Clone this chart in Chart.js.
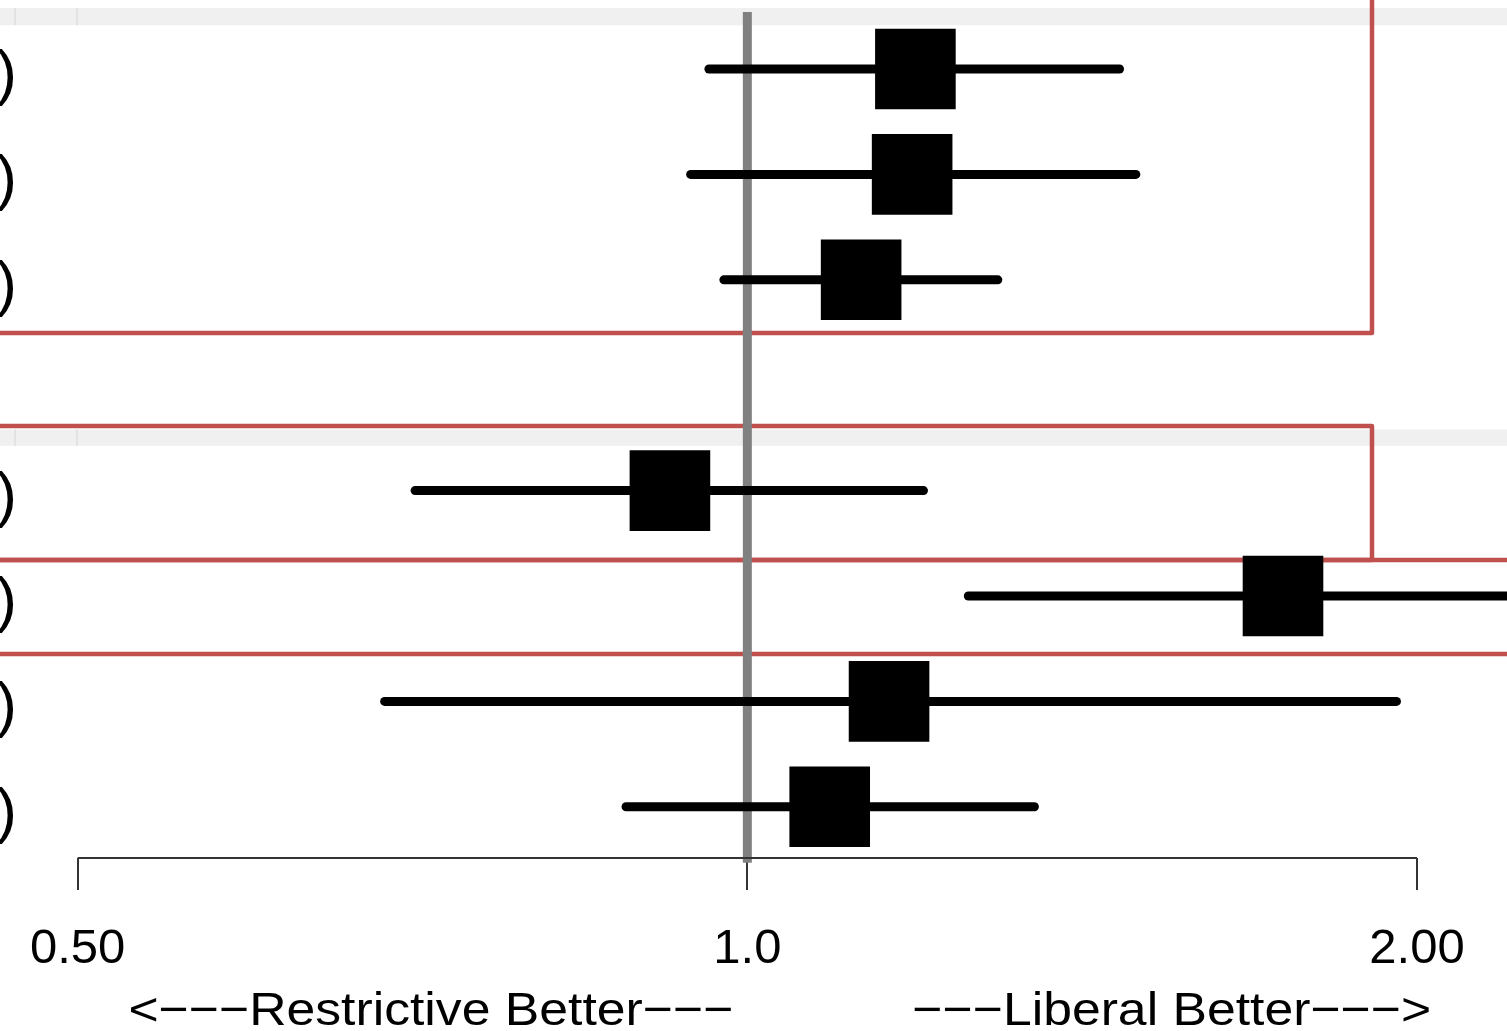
<!DOCTYPE html>
<html>
<head>
<meta charset="utf-8">
<script src="https://cdn.jsdelivr.net/npm/chart.js@4.4.1/dist/chart.umd.min.js"></script>
<style>
  html, body { margin: 0; padding: 0; background: #fff; }
  #wrap { width: 1507px; height: 1031px; position: relative; }
</style>
</head>
<body>
<div id="wrap"><canvas id="forest"></canvas></div>
<script>
// Rows of the forest plot (y position in row units, header rows are skipped)
const rowPos = [0, 1, 2, 4, 5, 6, 7];
const rowText = ['1.19 (0.96, 1.47)', '1.19 (0.94, 1.50)', '1.13 (0.97, 1.30)',
                 '0.92 (0.71, 1.20)', '1.74 (1.26, 2.30)', '1.16 (0.69, 1.96)', '1.09 (0.88, 1.35)'];
const estimate = [1.19, 1.186, 1.125, 0.923, 1.741, 1.158, 1.089];
const lower = [0.961, 0.943, 0.976, 0.709, 1.257, 0.687, 0.882];
const upper = [1.470, 1.495, 1.296, 1.200, 2.30, 1.958, 1.346];

// Axis
const tickValues = [0.5, 1, 2];
const tickLabels = ['0.50', '1.0', '2.00'];
const xMin = 0.4622;
const xMax = 2.1953;
const yMin = -0.655;
const yMax = 7.486;

// Header shading stripes and highlight boxes, in row / data units
const headerStripes = [[-0.58, -0.415], [3.42, 3.575]];
const highlightBoxes = [
    { x0: 0.3, x1: 1.909, y0: -1.2, y1: 2.505 },
    { x0: 0.3, x1: 1.909, y0: 3.387, y1: 4.658 },
    { x0: 0.3, x1: 2.6, y0: 4.658, y1: 5.55 }
];

const FONT = '"Liberation Sans", Arial, sans-serif';

// stretched text helper (the original glyphs are a bit wider than Liberation Sans)
function wideText(ctx, text, x, y, align, stretch) {
    ctx.save();
    ctx.translate(x, y);
    ctx.scale(stretch, 1);
    ctx.textAlign = align;
    ctx.fillText(text, 0, 0);
    ctx.restore();
}

// Background decorations: gray stripes + red boxes (drawn before the data)
const backdropPlugin = {
    id: 'backdrop',
    beforeDatasetsDraw(chart) {
        const { ctx, scales: { x, y }, width } = chart;
        ctx.save();
        headerStripes.forEach(([a, b]) => {
            const top = y.getPixelForValue(a);
            const bot = y.getPixelForValue(b);
            ctx.fillStyle = '#f0f0f0';
            ctx.fillRect(0, top, width, bot - top);
            ctx.fillStyle = '#e2e2e2';
            ctx.fillRect(14, top, 2, bot - top);
            ctx.fillRect(76, top, 2, bot - top);
        });
        ctx.strokeStyle = '#c0504d';
        ctx.lineWidth = 4.5;
        ctx.lineJoin = 'round';
        highlightBoxes.forEach(b => {
            const l = x.getPixelForValue(b.x0);
            const r = x.getPixelForValue(b.x1);
            const t = y.getPixelForValue(b.y0);
            const btm = y.getPixelForValue(b.y1);
            ctx.strokeRect(l, t, r - l, btm - t);
        });
        ctx.restore();
    },
    afterDraw(chart) {
        const { ctx, scales: { x, y }, chartArea } = chart;
        ctx.save();
        // axis line between first and last tick
        ctx.strokeStyle = '#333';
        ctx.lineWidth = 2;
        ctx.beginPath();
        ctx.moveTo(x.getPixelForValue(tickValues[0]), chartArea.bottom);
        ctx.lineTo(x.getPixelForValue(tickValues[tickValues.length - 1]), chartArea.bottom);
        ctx.stroke();

        // row labels (mostly cut off at the left edge)
        ctx.fillStyle = '#000';
        ctx.font = '62px ' + FONT;
        ctx.textAlign = 'right';
        ctx.textBaseline = 'alphabetic';
        rowPos.forEach((p, i) => {
            ctx.fillText(rowText[i], 17, y.getPixelForValue(p) + 24);
        });

        // direction labels under the axis
        ctx.font = '47px ' + FONT;
        const one = x.getPixelForValue(1);
        wideText(ctx, '<\u2212\u2212\u2212Restrictive Better\u2212\u2212\u2212', one - 14, 1025, 'right', 1.1);
        wideText(ctx, '\u2212\u2212\u2212Liberal Better\u2212\u2212\u2212>', one + 165, 1025, 'left', 1.1);
        ctx.restore();
    }
};

const boxData = rowPos.map((p, i) => ({ x: estimate[i], y: p }));

const ciSets = rowPos.map((p, i) => ({
    type: 'line',
    data: [{ x: lower[i], y: p }, { x: upper[i], y: p }],
    borderColor: '#000',
    borderWidth: 9,
    borderCapStyle: 'round',
    pointRadius: 0,
    clip: false
}));

const datasets = [
    {
        type: 'scatter',
        label: 'Estimate',
        data: boxData,
        pointStyle: 'rect',
        pointRadius: 57,
        pointHoverRadius: 57,
        backgroundColor: '#000',
        borderColor: '#000',
        borderWidth: 0,
        clip: false
    },
    ...ciSets,
    {
        type: 'line',
        label: 'No effect',
        data: [{ x: 1, y: -0.54 }, { x: 1, y: 7.53 }],
        borderColor: '#808080',
        borderWidth: 9,
        pointRadius: 0,
        clip: false
    }
];

new Chart(document.getElementById('forest'), {
    type: 'scatter',
    data: { datasets },
    plugins: [backdropPlugin],
    options: {
        responsive: true,
        maintainAspectRatio: false,
        animation: false,
        layout: { padding: 0, autoPadding: false },
        plugins: {
            legend: { display: false },
            tooltip: { enabled: false }
        },
        scales: {
            x: {
                type: 'logarithmic',
                position: 'bottom',
                min: xMin,
                max: xMax,
                afterBuildTicks: scale => {
                    scale.ticks = tickValues.map(v => ({ value: v }));
                },
                afterFit: scale => { scale.height = 173; },
                border: { display: false },
                grid: {
                    drawOnChartArea: false,
                    drawTicks: true,
                    tickLength: 32,
                    color: '#333',
                    lineWidth: 2
                },
                ticks: {
                    autoSkip: false,
                    maxRotation: 0,
                    padding: 30,
                    color: '#000',
                    font: { family: FONT, size: 49 },
                    callback: (v, i) => tickLabels[i]
                }
            },
            y: {
                type: 'linear',
                reverse: true,
                min: yMin,
                max: yMax,
                display: false
            }
        }
    }
});
</script>
</body>
</html>
